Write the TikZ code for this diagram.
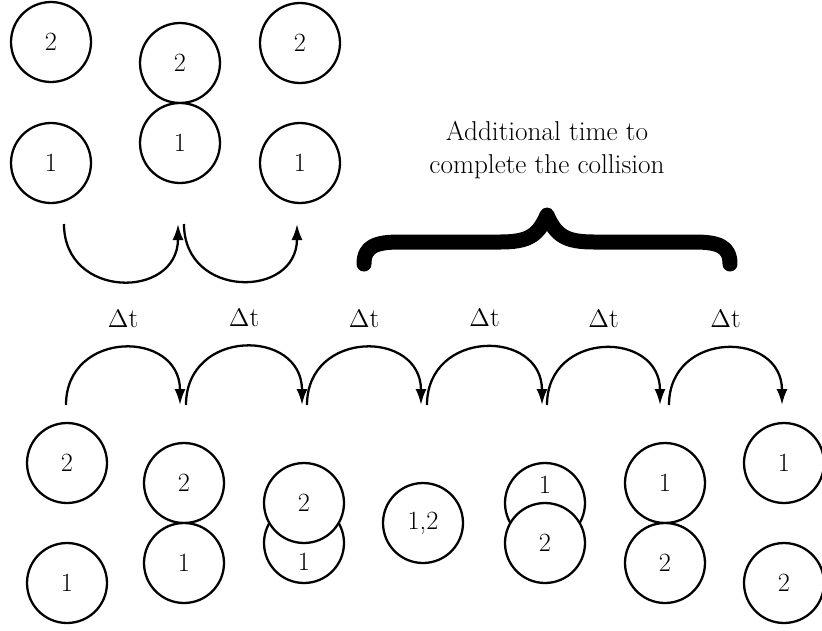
\documentclass[tikz,border=0pt]{standalone}
\usetikzlibrary{arrows.meta}

\tikzset{
  estilo bolas/.style={
      x=0.02cm, y=-0.02cm,
      bola/.style={circle, draw, line width=1.3pt, minimum size=1.6cm, inner sep=0pt, fill=white, font={\fontsize{15}{17}\selectfont}},
      paso/.style={-{Latex[length=3.2mm,width=2.2mm]}, line width=1.3pt, looseness=1.7},
      etiqueta/.style={font={\fontsize{15.5}{17}\selectfont}},
      llave/.style={line width=0.3cm, line cap=round, line join=round},
    },
}

\begin{document}
\begin{tikzpicture}[estilo bolas]
            \useasboundingbox (0,0) rectangle (822,630);

            % choque simple (arriba)
            \node[bola] (a1-2) at (51,42) {2};
            \node[bola] (a1-1) at (51,163) {1};
            \node[bola] (a2-2) at (180,63) {2};
            \node[bola] (a2-1) at (180,143) {1};
            \node[bola] (a3-2) at (300,43) {2};
            \node[bola] (a3-1) at (300,163) {1};

            \coordinate (ai0) at (64,224);
            \coordinate (af1) at (178,224);
            \coordinate (ai1) at (184,224);
            \coordinate (af2) at (297,224);
            \draw[paso] (ai0) to[out=-90, in=-90] (af1);
            \draw[paso] (ai1) to[out=-90, in=-90] (af2);

            % llave
            \node[align=center, font={\fontsize{15.5}{19.3}\selectfont}] (texto) at (547,150) {Additional time to\\complete the collision};
            \draw[llave] (364,264) .. controls (364,246) and (376,242) .. (400,242) -- (500,242)
                .. controls (528,242) and (538,236) .. (547,215)
                .. controls (556,236) and (566,242) .. (594,242) -- (694,242)
                .. controls (718,242) and (730,246) .. (730,264);

            % choque con tiempo adicional (abajo)
            \node[bola] (b1-2) at (67,463) {2};
            \node[bola] (b1-1) at (67,583) {1};
            \node[bola] (b2-2) at (184,483) {2};
            \node[bola] (b2-1) at (184,563) {1};
            \node[bola, label={[bola, draw=none, fill=none, yshift=-0.38cm]center:1}] (b3-1) at (304,543) {};
            \node[bola] (b3-2) at (304,503) {2};
            \node[bola] (b4) at (423,523) {1,2};
            \node[bola, label={[bola, draw=none, fill=none, yshift=0.36cm]center:1}] (b5-1) at (545,503) {};
            \node[bola] (b5-2) at (545,543) {2};
            \node[bola] (b6-1) at (665,483) {1};
            \node[bola] (b6-2) at (665,563) {2};
            \node[bola] (b7-1) at (784,463) {1};
            \node[bola] (b7-2) at (784,583) {2};

            \coordinate (bi0) at (66,405);
            \coordinate (bf1) at (180,405);
            \coordinate (bi1) at (186,405);
            \coordinate (bf2) at (302,405);
            \coordinate (bi2) at (307,405);
            \coordinate (bf3) at (421,405);
            \coordinate (bi3) at (427,405);
            \coordinate (bf4) at (542,405);
            \coordinate (bi4) at (547,405);
            \coordinate (bf5) at (660,405);
            \coordinate (bi5) at (669,405);
            \coordinate (bf6) at (782,405);

            \draw[paso] (bi0) to[out=90, in=90] node[etiqueta, above=8pt] {$\Delta$t} (bf1);
            \draw[paso] (bi1) to[out=90, in=90] node[etiqueta, above=8pt] {$\Delta$t} (bf2);
            \draw[paso] (bi2) to[out=90, in=90] node[etiqueta, above=8pt] {$\Delta$t} (bf3);
            \draw[paso] (bi3) to[out=90, in=90] node[etiqueta, above=8pt] {$\Delta$t} (bf4);
            \draw[paso] (bi4) to[out=90, in=90] node[etiqueta, above=8pt] {$\Delta$t} (bf5);
            \draw[paso] (bi5) to[out=90, in=90] node[etiqueta, above=8pt] {$\Delta$t} (bf6);
          \end{tikzpicture}
\end{document}
